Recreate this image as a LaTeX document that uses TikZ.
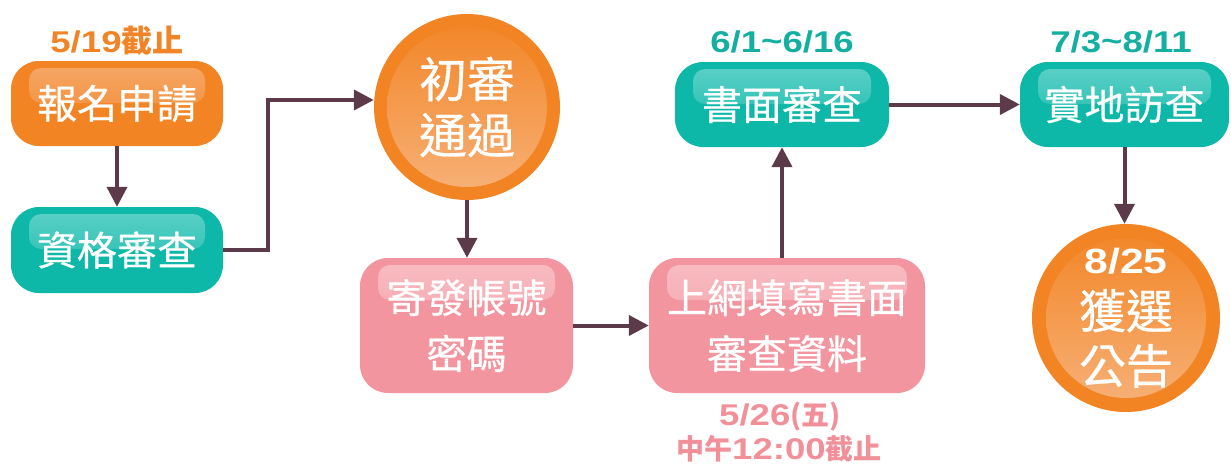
\documentclass[tikz,border=0pt]{standalone}
\usepackage{fontspec}
\setmainfont{Liberation Sans}
\newfontfamily\cjk{Noto Sans CJK TC}
\newfontfamily\cjkbox[FakeBold=0.6]{Noto Sans CJK TC}
\newfontfamily\lab[FakeStretch=1.22]{Liberation Sans}
\usetikzlibrary{arrows.meta,calc,shapes.geometric}
\definecolor{cOr}{HTML}{F28424}
\definecolor{cOrHi}{HTML}{F6A869}
\definecolor{cOrIn}{HTML}{F7B27A}
\definecolor{cTe}{HTML}{0DB8A9}
\definecolor{cTeHi}{HTML}{5FD1C8}
\definecolor{cPk}{HTML}{F3959F}
\definecolor{cPkHi}{HTML}{F8BCC2}
\definecolor{cAr}{HTML}{5C3A4A}
\definecolor{cOrTxt}{HTML}{F08427}
\definecolor{cTeTxt}{HTML}{14AFA1}
\definecolor{cPkTxt}{HTML}{F2909A}
\tikzset{
  boxbase/.style={rectangle, rounded corners=28pt, inner sep=0pt, text=white, align=center,
    font=\cjkbox\fontsize{40}{56}\selectfont},
  gloss/.style 2 args={fill=#2, path picture={\shade[top color=#1, bottom color=#2, rounded corners=12pt]
      ($(path picture bounding box.north west)+(18pt,-7pt)$) rectangle
      ($(path picture bounding box.north east)+(-18pt,-42pt)$);}},
  orbox/.style={boxbase, gloss={cOrHi}{cOr}},
  tebox/.style={boxbase, gloss={cTeHi}{cTe}},
  pkbox/.style={boxbase, gloss={cPkHi}{cPk}},
  orcirc/.style={circle, inner sep=0pt, minimum size=186pt, fill=cOr, text=white, align=center,
    font=\cjkbox\fontsize{48}{56}\selectfont,
    path picture={\shade[top color=cOr, bottom color=cOrIn]
      (path picture bounding box.center) circle (80pt);}},
  arr/.style={draw=cAr, line width=4pt, -{Triangle[length=20pt,width=20pt]}},
  datelab/.style={anchor=base, inner sep=0pt, font=\fontsize{30}{36}\selectfont\bfseries}
}
\begin{document}
\begin{tikzpicture}[x=1pt,y=-1pt]
\useasboundingbox (0,0) rectangle (1231,466);
% nodes
\node[orbox, minimum width=212pt, minimum height=85pt] (apply) at (117,103.5) {報名申請};
\node[tebox, minimum width=212pt, minimum height=86pt] (qual) at (117,250) {資格審查};
\node[orcirc] (c1) at (467,107) {初審\\通過};
\node[pkbox, minimum width=213pt, minimum height=135pt] (send) at (466.5,325.5) {寄發帳號\\密碼};
\node[pkbox, minimum width=276pt, minimum height=135pt] (fillin) at (787,325.5) {上網填寫書面\\審查資料};
\node[tebox, minimum width=214pt, minimum height=85pt] (doc) at (782,104.5) {書面審查};
\node[tebox, minimum width=209pt, minimum height=85pt] (visit) at (1124.5,104.5) {實地訪查};
\node[orcirc, minimum size=188pt, font=\cjkbox\fontsize{47}{55}\selectfont] (c2) at (1126,318)
  {{\lab\bfseries\fontsize{35}{55}\selectfont 8/25}\\獲選\\公告};
% labels
\node[datelab, text=cOrTxt] (l1) at (117,52) {\lab 5/19\cjk\fontsize{31}{36}\selectfont 截止};
\node[datelab, text=cTeTxt] (l2) at (782,52) {\lab 6/1\raisebox{1pt}{\textasciitilde}6/16};
\node[datelab, text=cTeTxt] (l3) at (1121,52) {\lab 7/3\raisebox{1pt}{\textasciitilde}8/11};
\node[datelab, text=cPkTxt] (l4) at (780,425) {\lab 5/26\cjk\fontsize{28}{36}\selectfont (五)};
\node[datelab, text=cPkTxt] (l5) at (779,459) {\cjk\fontsize{28}{36}\selectfont 中午\lab\fontsize{30}{36}\selectfont 12:00\cjk\fontsize{28}{36}\selectfont 截止};
% connectors
\draw[arr] (apply.south) -- (qual.north);
\draw[arr] (qual.east) -- ++(45,0) |- ($(c1.west)+(0,-7)$);
\draw[arr] (c1.south) -- (c1.south |- send.north);
\draw[arr] (send.east) -- (fillin.west);
\draw[arr] (doc.south |- fillin.north) -- (doc.south);
\draw[arr] (doc.east) -- (visit.west);
\draw[arr] (visit.south) -- (visit.south |- c2.north);
\end{tikzpicture}
\end{document}
